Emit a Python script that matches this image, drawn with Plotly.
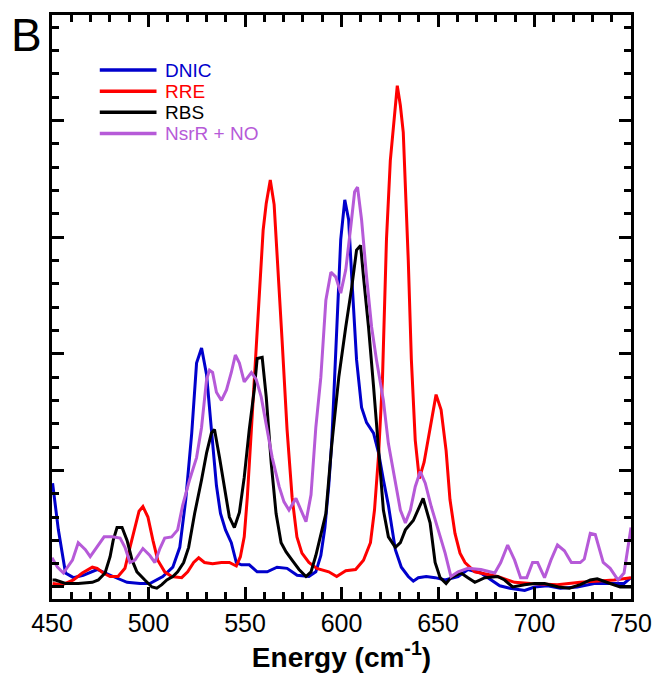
import plotly.graph_objects as go

# ---------------- data ----------------
dnic_x = [450.3, 453.3, 457.0, 461.1, 466.2, 473.4, 481.7, 488.9, 495.6, 500.7, 507.4, 512.6, 516.2, 519.3,
          522.4, 524.9, 527.5, 530.1, 532.6, 535.2, 537.3, 539.9, 542.9, 545.5, 548.1, 552.2, 556.3, 561.5,
          566.6, 571.8, 577.0, 583.1, 586.7, 589.3, 591.4, 593.4, 595.0, 596.5, 598.1, 599.6, 601.7, 603.7,
          605.3, 607.8, 610.4, 613.0, 616.6, 619.2, 621.7, 624.3, 627.9, 631.0, 634.6, 637.2, 639.8, 643.9,
          648.5, 653.7, 660.4, 665.5, 672.2, 677.4, 682.0, 687.2, 694.9, 700.0, 706.7, 713.4, 722.2, 730.9,
          739.2, 746.4, 750.0]
dnic_y = [0.89, 0.49, 0.12, 0.08, 0.10, 0.15, 0.09, 0.04, 0.03, 0.03, 0.09, 0.17, 0.34, 0.75,
          1.32, 1.92, 2.05, 1.82, 1.35, 0.87, 0.63, 0.49, 0.38, 0.21, 0.19, 0.19, 0.13, 0.13,
          0.17, 0.16, 0.10, 0.09, 0.13, 0.27, 0.51, 0.87, 1.26, 1.86, 2.46, 2.98, 3.32, 3.15,
          2.66, 1.95, 1.54, 1.41, 1.32, 1.15, 0.92, 0.70, 0.32, 0.17, 0.09, 0.05, 0.08, 0.09,
          0.08, 0.06, 0.09, 0.15, 0.12, 0.06, 0.01, -0.01, -0.03, 0.00, 0.01, -0.01, 0.00, 0.03,
          0.03, 0.03, 0.08]

rre_x = [450.3, 455.4, 461.1, 465.7, 470.9, 473.4, 476.5, 480.1, 484.2, 487.8, 490.4, 493.0, 495.1, 497.1,
         499.7, 502.3, 504.8, 508.4, 512.0, 517.2, 520.3, 523.4, 526.0, 529.0, 533.2, 537.8, 541.9, 545.5,
         547.6, 549.6, 551.2, 553.3, 555.3, 557.4, 559.4, 561.0, 563.1, 565.1, 567.2, 569.2, 571.8, 574.4,
         576.9, 579.5, 583.1, 587.2, 593.4, 597.5, 602.2, 607.3, 611.4, 615.0, 617.1, 619.2, 621.2, 623.3,
         625.3, 626.9, 628.9, 630.5, 632.0, 634.6, 636.2, 638.2, 640.3, 642.8, 645.9, 649.0, 651.6, 654.2,
         656.2, 658.8, 661.4, 664.0, 669.1, 680.9, 689.7, 697.9, 711.8, 723.7, 741.2, 750.0]
rre_y = [0.03, 0.02, 0.06, 0.12, 0.17, 0.16, 0.12, 0.09, 0.09, 0.16, 0.34, 0.51, 0.65, 0.69,
         0.60, 0.40, 0.23, 0.13, 0.09, 0.08, 0.13, 0.21, 0.25, 0.21, 0.20, 0.21, 0.21, 0.18,
         0.26, 0.43, 0.77, 1.35, 1.92, 2.46, 3.06, 3.29, 3.49, 3.28, 2.72, 2.12, 1.35, 0.77,
         0.43, 0.29, 0.21, 0.16, 0.13, 0.09, 0.14, 0.15, 0.23, 0.38, 0.66, 1.13, 1.77, 2.98,
         3.66, 3.94, 4.30, 4.13, 3.90, 2.80, 1.95, 1.26, 0.93, 1.07, 1.37, 1.65, 1.52, 1.17,
         0.75, 0.46, 0.29, 0.21, 0.13, 0.09, 0.04, 0.03, 0.02, 0.04, 0.06, 0.08]

rbs_x = [450.3, 451.8, 457.0, 460.6, 463.6, 470.9, 474.0, 477.5, 480.1, 481.7, 483.7, 486.3, 488.9, 491.5,
         494.0, 498.1, 501.8, 504.3, 506.9, 509.5, 512.6, 515.1, 518.2, 520.8, 523.9, 527.5, 530.1, 532.6,
         534.2, 536.8, 539.3, 541.9, 544.5, 547.1, 549.6, 552.2, 554.8, 556.3, 558.9, 561.0, 563.6, 566.1,
         568.7, 571.3, 574.4, 578.0, 581.6, 584.2, 586.7, 588.3, 591.9, 595.0, 598.6, 602.2, 605.3, 607.8,
         609.9, 611.4, 614.0, 616.6, 619.2, 621.7, 624.3, 627.9, 630.5, 633.1, 637.2, 642.3, 645.9, 648.5,
         651.1, 654.2, 656.7, 661.9, 665.5, 669.1, 674.3, 680.9, 684.5, 688.7, 694.9, 700.0, 705.2, 712.4,
         718.1, 723.7, 728.9, 732.5, 739.2, 744.4, 750.0]
rbs_y = [0.06, 0.06, 0.03, 0.03, 0.03, 0.04, 0.06, 0.12, 0.26, 0.40, 0.51, 0.51, 0.40, 0.23,
         0.13, 0.06, 0.00, -0.01, 0.02, 0.06, 0.09, 0.13, 0.21, 0.34, 0.63, 0.92, 1.15, 1.32,
         1.35, 1.11, 0.86, 0.60, 0.51, 0.64, 0.94, 1.35, 1.69, 1.96, 1.97, 1.63, 1.06, 0.63,
         0.38, 0.30, 0.23, 0.15, 0.09, 0.13, 0.27, 0.38, 0.63, 1.23, 1.80, 2.23, 2.57, 2.89,
         2.93, 2.66, 2.23, 1.72, 1.15, 0.66, 0.43, 0.34, 0.38, 0.49, 0.57, 0.76, 0.55, 0.21,
         0.08, 0.03, 0.08, 0.12, 0.08, 0.04, 0.08, 0.09, 0.06, 0.00, 0.02, 0.03, 0.03, 0.00,
         -0.01, 0.02, 0.06, 0.07, 0.03, 0.00, 0.00]

nsrr_x = [450.0, 452.8, 455.9, 460.6, 463.6, 467.3, 469.8, 473.4, 477.0, 481.2, 485.3, 487.8, 490.4, 493.0,
          497.1, 500.7, 503.3, 505.9, 508.4, 512.0, 515.1, 517.7, 521.3, 524.9, 527.5, 530.1, 531.6, 533.2,
          535.2, 537.8, 540.4, 542.9, 545.0, 547.1, 549.6, 553.3, 555.8, 558.4, 561.5, 564.1, 567.7, 570.2,
          572.8, 576.4, 579.0, 581.6, 584.2, 586.7, 589.3, 591.9, 594.5, 597.0, 599.6, 602.2, 604.8, 606.8,
          608.3, 610.4, 613.0, 615.6, 618.1, 621.7, 624.3, 627.9, 630.5, 633.1, 635.7, 638.2, 640.8, 643.4,
          646.5, 650.1, 653.7, 656.7, 660.4, 665.5, 672.2, 679.4, 682.5, 686.1, 689.7, 692.8, 696.0, 699.0,
          701.6, 705.2, 708.5, 711.9, 715.5, 719.1, 723.7, 725.8, 728.9, 731.5, 735.6, 739.2, 743.3, 746.4,
          750.0]
nsrr_y = [0.25, 0.17, 0.12, 0.23, 0.38, 0.32, 0.26, 0.34, 0.43, 0.43, 0.42, 0.34, 0.21, 0.23,
          0.33, 0.27, 0.21, 0.33, 0.42, 0.43, 0.49, 0.70, 0.92, 1.11, 1.37, 1.78, 1.86, 1.84,
          1.67, 1.60, 1.69, 1.84, 1.99, 1.92, 1.76, 1.84, 1.78, 1.63, 1.35, 1.11, 0.86, 0.73,
          0.66, 0.76, 0.66, 0.56, 0.79, 1.37, 1.80, 2.46, 2.70, 2.66, 2.52, 2.72, 3.09, 3.39,
          3.43, 3.15, 2.66, 2.23, 1.95, 1.60, 1.23, 0.89, 0.66, 0.55, 0.66, 0.86, 0.99, 0.89,
          0.69, 0.49, 0.29, 0.09, 0.13, 0.16, 0.15, 0.12, 0.21, 0.36, 0.23, 0.08, 0.08, 0.21,
          0.21, 0.08, 0.23, 0.36, 0.31, 0.21, 0.21, 0.24, 0.46, 0.45, 0.21, 0.16, 0.06, 0.12,
          0.51]

series_names = ["DNIC", "RRE", "RBS", "NsrR + NO"]
series_colors = ["#0000CC", "#FF0000", "#000000", "#B65AD8"]
series_x = [dnic_x, rre_x, rbs_x, nsrr_x]
series_y = [dnic_y, rre_y, rbs_y, nsrr_y]

x_ticks = [450, 500, 550, 600, 650, 700, 750]
x_range = [450, 750]
y_range = [-0.103, 4.906]

FONT = "Liberation Sans, Arial"

# ---------------- figure ----------------
fig = go.Figure()
for i in range(len(series_names)):
    fig.add_trace(go.Scatter(x=series_x[i], y=series_y[i], mode="lines",
                             line=dict(color=series_colors[i], width=3),
                             name=series_names[i], showlegend=False))

# manual legend (long sample lines as in the reference)
leg_top = 0.9058
leg_step = 0.0362
for k, (nm, col) in enumerate(zip(series_names, series_colors)):
    yy = leg_top - k * leg_step
    fig.add_shape(type="line", xref="paper", yref="paper",
                  x0=0.0825, x1=0.1805, y0=yy, y1=yy,
                  line=dict(color=col, width=3.5))
    fig.add_annotation(xref="paper", yref="paper", x=0.191, y=yy,
                       text=nm, showarrow=False, xanchor="left", yanchor="middle",
                       font=dict(family=FONT, size=19, color=col))

# panel letter
fig.add_annotation(xref="paper", yref="paper", x=-0.075, y=0.966, text="B",
                   showarrow=False, xanchor="left", yanchor="middle",
                   font=dict(family=FONT, size=46, color="black"))

tick_style = dict(ticks="inside", tickcolor="black", tickwidth=2.5, ticklen=12,
                  showgrid=False, zeroline=False)
x_minor = dict(dtick=10, ticks="inside", ticklen=7, tickwidth=2.5, tickcolor="black", showgrid=False)
y_minor = dict(dtick=0.2, ticks="inside", ticklen=7, tickwidth=2.5, tickcolor="black", showgrid=False)

fig.update_layout(
    xaxis=dict(range=x_range, tickmode="array", tickvals=x_ticks,
               ticktext=[str(v) for v in x_ticks],
               tickfont=dict(family=FONT, size=25, color="black"),
               showline=True, linecolor="black", linewidth=3, mirror=True,
               minor=x_minor,
               title=dict(text="<b>Energy (cm<sup>-1</sup>)</b>", standoff=6,
                          font=dict(family=FONT, size=28, color="black")),
               **tick_style),
    yaxis=dict(range=y_range, tick0=0, dtick=1, showticklabels=False,
               showline=True, linecolor="black", linewidth=3, mirror=True,
               minor=y_minor, **tick_style),
    # overlay axes carrying the mirrored (top / right) ticks
    xaxis2=dict(range=x_range, overlaying="x", side="top", anchor="y",
                tickmode="array", tickvals=x_ticks, showticklabels=False,
                minor=x_minor, **tick_style),
    yaxis2=dict(range=y_range, overlaying="y", side="right", anchor="x",
                tick0=0, dtick=1, showticklabels=False,
                minor=y_minor, **tick_style),
    width=664, height=681, margin=dict(l=52, r=30, t=15, b=82),
    plot_bgcolor="white", paper_bgcolor="white", showlegend=False)

# an empty trace so the overlay axes are drawn
fig.add_trace(go.Scatter(x=[], y=[], xaxis="x2", yaxis="y2", showlegend=False, hoverinfo="skip"))

fig.write_html("out.html")
